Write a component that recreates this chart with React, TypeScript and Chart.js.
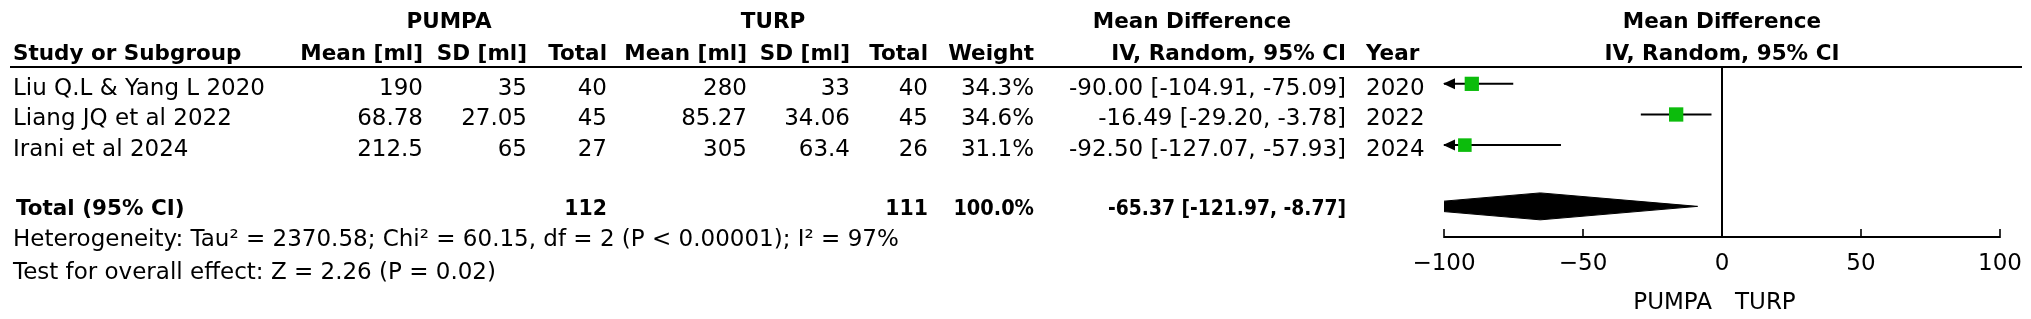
import React, { useEffect, useRef } from 'react';
import { Chart, registerables } from 'chart.js';

Chart.register(...registerables);

// ---------------- data ----------------
const STUDIES = ['Liu Q.L & Yang L 2020', 'Liang JQ et al 2022', 'Irani et al 2024'];
const YEARS = [2020, 2022, 2024];
const PUMPA_MEAN = [190, 68.78, 212.5];
const PUMPA_SD = [35, 27.05, 65];
const PUMPA_TOTAL = [40, 45, 27];
const TURP_MEAN = [280, 85.27, 305];
const TURP_SD = [33, 34.06, 63.4];
const TURP_TOTAL = [40, 45, 26];
const WEIGHTS = [34.3, 34.6, 31.1];
const MEAN_DIFF = [-90.0, -16.49, -92.5];
const CI_LOWER = [-104.91, -29.2, -127.07];
const CI_UPPER = [-75.09, -3.78, -57.93];

const TOTAL_PUMPA = 112;
const TOTAL_TURP = 111;
const TOTAL_WEIGHT = 100.0;
const POOLED_MD = -65.37;
const POOLED_LOWER = -121.97;
const POOLED_UPPER = -8.77;

const HET_TAU2 = 2370.58;
const HET_CHI2 = 60.15;
const HET_DF = 2;
const HET_P = '< 0.00001';
const HET_I2 = 97;
const OVERALL_Z = 2.26;
const OVERALL_P = 0.02;

const AXIS_TICKS = [-100, -50, 0, 50, 100];
const AXIS_MIN = -100;
const AXIS_MAX = 100;
const FAVOURS = ['PUMPA', 'TURP'];
const GROUPS = ['PUMPA', 'TURP'];

// ---------------- layout / style ----------------
const W = 2031;
const H = 319;
const FONT = "'DejaVu Sans', sans-serif";
const GREEN = '#0cbc0c';
const Y_TOP = -0.55;
const Y_BOTTOM = 5;
const TOTAL_ROW = STUDIES.length + 1;
const DIAMOND_HALF = 0.44;

const COL = {
  study: 13,
  pMean: 423,
  pSD: 527,
  pTotal: 607,
  tMean: 747,
  tSD: 850,
  tTotal: 928,
  weight: 1034,
  md: 1346,
  year: 1366,
};

const fmtMinus = (v: number) => (v < 0 ? '\u2212' + String(Math.abs(v)) : String(v));

const decorPlugin = {
  id: 'forestDecor',
  afterDraw(chart: any) {
    const { ctx } = chart;
    const xs = chart.scales.x;
    const ys = chart.scales.y;
    const x0 = xs.getPixelForValue(0);
    const xL = xs.getPixelForValue(AXIS_MIN);
    const xR = xs.getPixelForValue(AXIS_MAX);
    const xC = (xL + xR) / 2;
    const headerY = ys.getPixelForValue(Y_TOP);
    const axisY = ys.getPixelForValue(Y_BOTTOM);

    ctx.save();
    ctx.strokeStyle = '#000';
    ctx.fillStyle = '#000';

    // header rule
    ctx.lineWidth = 2;
    ctx.beginPath();
    ctx.moveTo(10, headerY);
    ctx.lineTo(2022, headerY);
    ctx.stroke();

    // zero line
    ctx.beginPath();
    ctx.moveTo(x0, headerY);
    ctx.lineTo(x0, axisY);
    ctx.stroke();

    // axis
    ctx.beginPath();
    ctx.moveTo(xL, axisY);
    ctx.lineTo(xR, axisY);
    ctx.stroke();
    ctx.lineWidth = 1.6;
    AXIS_TICKS.forEach((t) => {
      const x = xs.getPixelForValue(t);
      ctx.beginPath();
      ctx.moveTo(x, axisY - 8);
      ctx.lineTo(x, axisY + 1);
      ctx.stroke();
    });

    // arrows for clipped CIs
    STUDIES.forEach((_, i) => {
      const y = ys.getPixelForValue(i);
      if (CI_LOWER[i] < AXIS_MIN) {
        ctx.beginPath();
        ctx.moveTo(xL - 1, y);
        ctx.lineTo(xL + 11, y - 5.5);
        ctx.lineTo(xL + 11, y + 5.5);
        ctx.closePath();
        ctx.fill();
      }
      if (CI_UPPER[i] > AXIS_MAX) {
        ctx.beginPath();
        ctx.moveTo(xR + 1, y);
        ctx.lineTo(xR - 11, y - 5.5);
        ctx.lineTo(xR - 11, y + 5.5);
        ctx.closePath();
        ctx.fill();
      }
    });

    const txt = (
      s: string,
      x: number,
      y: number,
      align: CanvasTextAlign,
      bold = false,
      squeeze = 1
    ) => {
      ctx.font = bold ? `bold 21.5px ${FONT}` : `23px ${FONT}`;
      ctx.textAlign = align;
      ctx.textBaseline = 'alphabetic';
      if (squeeze < 1) {
        const w = ctx.measureText(s).width;
        ctx.fillText(s, x, y, w * squeeze);
      } else {
        ctx.fillText(s, x, y);
      }
    };

    // axis labels
    AXIS_TICKS.forEach((t) => txt(fmtMinus(t), xs.getPixelForValue(t), axisY + 33, 'center'));
    txt(FAVOURS[0], x0 - 10, axisY + 72, 'right');
    txt(FAVOURS[1], x0 + 13, axisY + 72, 'left');

    // headers
    const g1 = 27.5;
    const g2 = 59.5;
    txt(GROUPS[0], 449, g1, 'center', true);
    txt(GROUPS[1], 773, g1, 'center', true);
    txt('Mean Difference', 1192, g1, 'center', true);
    txt('Mean Difference', xC, g1, 'center', true);
    txt('Study or Subgroup', COL.study, g2, 'left', true);
    txt('Mean [ml]', COL.pMean, g2, 'right', true);
    txt('SD [ml]', COL.pSD, g2, 'right', true);
    txt('Total', COL.pTotal, g2, 'right', true);
    txt('Mean [ml]', COL.tMean, g2, 'right', true);
    txt('SD [ml]', COL.tSD, g2, 'right', true);
    txt('Total', COL.tTotal, g2, 'right', true);
    txt('Weight', COL.weight, g2, 'right', true);
    txt('IV, Random, 95% CI', COL.md, g2, 'right', true);
    txt('Year', COL.year, g2, 'left', true);
    txt('IV, Random, 95% CI', xC, g2, 'center', true);

    // study rows
    STUDIES.forEach((name, i) => {
      const b = ys.getPixelForValue(i) + 11;
      txt(name, COL.study, b, 'left');
      txt(String(PUMPA_MEAN[i]), COL.pMean, b, 'right');
      txt(String(PUMPA_SD[i]), COL.pSD, b, 'right');
      txt(String(PUMPA_TOTAL[i]), COL.pTotal, b, 'right');
      txt(String(TURP_MEAN[i]), COL.tMean, b, 'right');
      txt(String(TURP_SD[i]), COL.tSD, b, 'right');
      txt(String(TURP_TOTAL[i]), COL.tTotal, b, 'right');
      txt(WEIGHTS[i].toFixed(1) + '%', COL.weight, b, 'right');
      txt(
        `${MEAN_DIFF[i].toFixed(2)} [${CI_LOWER[i].toFixed(2)}, ${CI_UPPER[i].toFixed(2)}]`,
        COL.md,
        b,
        'right'
      );
      txt(String(YEARS[i]), COL.year, b, 'left');
    });

    // total row
    const tb = ys.getPixelForValue(TOTAL_ROW) + 9;
    txt('Total (95% CI)', 16, tb, 'left', true);
    txt(String(TOTAL_PUMPA), COL.pTotal, tb, 'right', true, 0.95);
    txt(String(TOTAL_TURP), COL.tTotal, tb, 'right', true, 0.95);
    txt(TOTAL_WEIGHT.toFixed(1) + '%', COL.weight, tb, 'right', true, 0.9);
    txt(
      `${POOLED_MD.toFixed(2)} [${POOLED_LOWER.toFixed(2)}, ${POOLED_UPPER.toFixed(2)}]`,
      COL.md,
      tb,
      'right',
      true,
      0.87
    );

    txt(
      `Heterogeneity: Tau\u00b2 = ${HET_TAU2}; Chi\u00b2 = ${HET_CHI2}, df = ${HET_DF} (P ${HET_P}); I\u00b2 = ${HET_I2}%`,
      COL.study,
      246,
      'left'
    );
    txt(
      `Test for overall effect: Z = ${OVERALL_Z.toFixed(2)} (P = ${OVERALL_P.toFixed(2)})`,
      COL.study,
      278.5,
      'left'
    );

    ctx.restore();
  },
};

export default function App() {
  const ref = useRef<HTMLCanvasElement | null>(null);

  useEffect(() => {
    if (!ref.current) return;

    const ciSets = STUDIES.map((_, i) => ({
      type: 'line' as const,
      data: [
        { x: CI_LOWER[i], y: i },
        { x: CI_UPPER[i], y: i },
      ],
      showLine: true,
      borderColor: '#000',
      borderWidth: 2,
      pointRadius: 0,
      fill: false,
      order: 2,
    }));

    const squares = {
      type: 'scatter' as const,
      data: STUDIES.map((_, i) => ({ x: MEAN_DIFF[i], y: i })),
      pointStyle: 'rect',
      pointRadius: (c: any) => 1.72 * Math.sqrt(WEIGHTS[c.dataIndex] ?? 30),
      pointBackgroundColor: GREEN,
      pointBorderWidth: 0,
      backgroundColor: GREEN,
      order: 0,
    };

    const diamond = {
      type: 'line' as const,
      data: [
        { x: POOLED_LOWER, y: TOTAL_ROW },
        { x: POOLED_MD, y: TOTAL_ROW - DIAMOND_HALF },
        { x: POOLED_UPPER, y: TOTAL_ROW },
        { x: POOLED_MD, y: TOTAL_ROW + DIAMOND_HALF },
        { x: POOLED_LOWER, y: TOTAL_ROW },
      ],
      showLine: true,
      borderColor: '#000',
      borderWidth: 1,
      backgroundColor: '#000',
      fill: 'shape',
      pointRadius: 0,
      tension: 0,
      order: 1,
    };

    const chart = new Chart(ref.current, {
      type: 'scatter',
      data: { datasets: [...ciSets, squares, diamond] as any },
      options: {
        animation: false,
        responsive: false,
        devicePixelRatio: 1,
        events: [],
        layout: {
          autoPadding: false,
          padding: { left: 1444, right: 31, top: 67, bottom: 82 },
        },
        plugins: {
          legend: { display: false },
          tooltip: { enabled: false },
        },
        scales: {
          x: { type: 'linear', min: AXIS_MIN, max: AXIS_MAX, display: false },
          y: { type: 'linear', min: Y_TOP, max: Y_BOTTOM, reverse: true, display: false },
        },
      } as any,
      plugins: [decorPlugin],
    });

    return () => chart.destroy();
  }, []);

  return (
    <div style={{ position: 'absolute', left: 0, top: 0, width: W, height: H, background: '#fff' }}>
      <canvas ref={ref} width={W} height={H} style={{ display: 'block' }} />
    </div>
  );
}
